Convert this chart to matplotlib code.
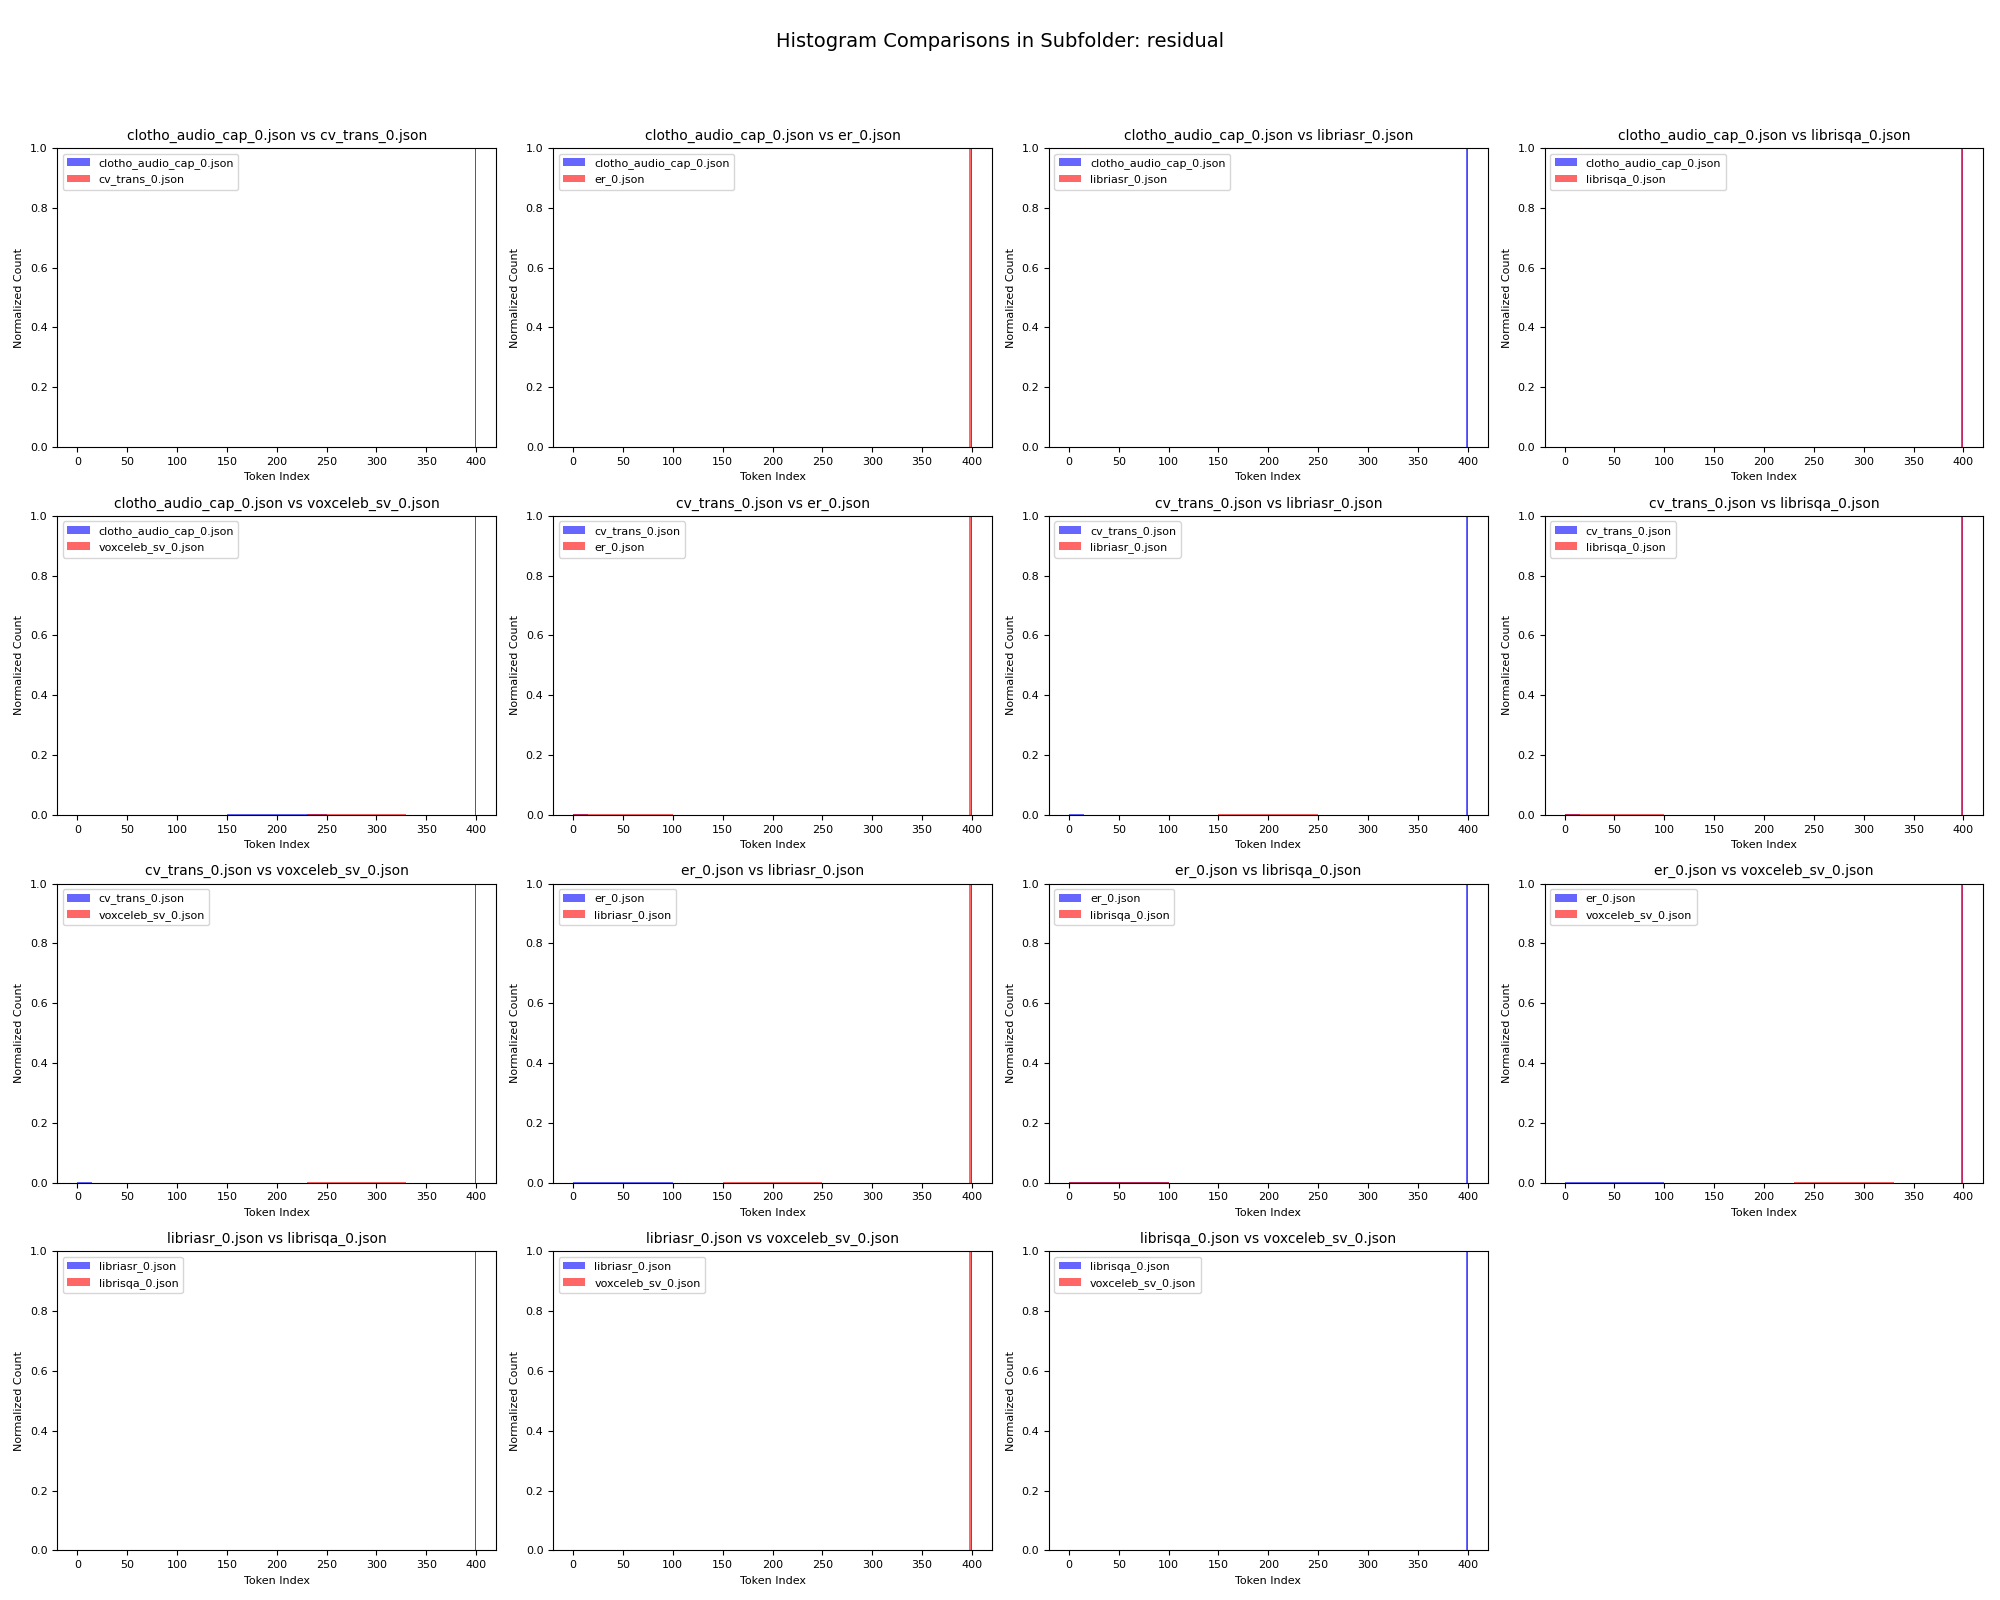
import itertools
import matplotlib
matplotlib.use("Agg")
import matplotlib.pyplot as plt
import numpy as np

subfolder = "residual"
datasets = ["clotho_audio_cap_0.json", "cv_trans_0.json", "er_0.json",
            "libriasr_0.json", "librisqa_0.json", "voxceleb_sv_0.json"]

# low, barely visible token ranges per dataset (start, end) and their normalized level
tail_start = {"clotho_audio_cap_0.json": 150, "cv_trans_0.json": 0, "er_0.json": 0,
              "libriasr_0.json": 150, "librisqa_0.json": 0, "voxceleb_sv_0.json": 230}
tail_end = {"clotho_audio_cap_0.json": 250, "cv_trans_0.json": 15, "er_0.json": 100,
            "libriasr_0.json": 250, "librisqa_0.json": 100, "voxceleb_sv_0.json": 330}
tail_level = 0.0012

# peak bin at token index 400 (normalized count) and its bin width for each panel
peak_index = 400
peak_value = 1.0
peak_width_a = [1, 1, 1.5, 2.8, 1, 1, 1.5, 2.8, 1, 1, 1.5, 2.8, 1, 1, 1.5]
peak_width_b = [1, 2.8, 1, 1, 1, 2.8, 1, 1, 1, 2.8, 1, 1, 1, 2.8, 1]


def hist_parts(name, width):
    edges = [tail_start[name], tail_end[name], peak_index - width, peak_index]
    centers = [(tail_start[name] + tail_end[name]) / 2, (tail_end[name] + peak_index - width) / 2,
               peak_index - width / 2]
    weights = [tail_level, 0.0, peak_value]
    return centers, edges, weights


pairs = list(itertools.combinations(datasets, 2))

fig, axes = plt.subplots(4, 4, figsize=(20, 16))
axes = axes.flatten()

for i, (a, b) in enumerate(pairs):
    ax = axes[i]
    ca, ea, wa = hist_parts(a, peak_width_a[i])
    cb, eb, wb = hist_parts(b, peak_width_b[i])
    ax.hist(ca, bins=ea, weights=wa, alpha=0.6, color="blue", label=a)
    ax.hist(cb, bins=eb, weights=wb, alpha=0.6, color="red", label=b)
    ax.set_xlim(-20, 420)
    ax.set_ylim(0, 1)
    ax.set_xticks(np.arange(0, 401, 50))
    ax.set_title(f"{a} vs {b}", fontsize=10)
    ax.set_xlabel("Token Index", fontsize=8)
    ax.set_ylabel("Normalized Count", fontsize=8)
    ax.tick_params(labelsize=8)
    ax.legend(loc="upper left", fontsize=8)

for j in range(len(pairs), len(axes)):
    axes[j].axis("off")

fig.suptitle(f"Histogram Comparisons in Subfolder: {subfolder}", fontsize=14)
plt.subplots_adjust(left=0.0287, right=0.9917, top=0.9075, bottom=0.031, hspace=0.23, wspace=0.13)
plt.savefig("out.png", dpi=100)
